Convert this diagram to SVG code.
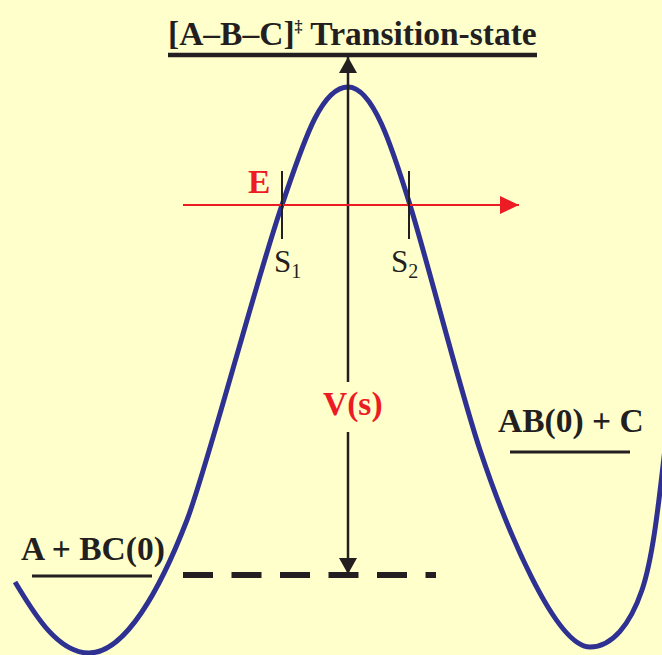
<svg xmlns="http://www.w3.org/2000/svg" width="662" height="655" viewBox="0 0 662 655">
<style>
.t{font-family:"Liberation Serif","Times New Roman",serif;font-weight:bold;font-size:33.5px;fill:#231f20}
.r{fill:#ed1c24}
.n{font-family:"Liberation Serif","Times New Roman",serif;font-size:31px;fill:#231f20}
</style>
<defs>
<marker id="ab" markerWidth="16" markerHeight="18" refX="16" refY="9" orient="auto" markerUnits="userSpaceOnUse">
<path d="M0,0 L16,9 L0,18 Z" fill="#231f20"/>
</marker>
<marker id="ar" markerWidth="19" markerHeight="18" refX="19" refY="9" orient="auto" markerUnits="userSpaceOnUse">
<path d="M0,0 L19,9 L0,18 Z" fill="#ed1c24"/>
</marker>
</defs>
<rect width="662" height="655" fill="#ffffcc"/>
<g id="curve">
<path d="M15,582 C30,606 55,653 89,653 C125,653 160,590 187,520 C207,468 257,277 282,205 C302,147 320,87 348,87 C373,87 392,147 410,205 C428,263 460,390 480,450 C505,525 555,647 590,647 C612,647 630,625 642,590 C654,555 660,490 666,440" fill="none" stroke="#2e3192" stroke-width="5"/>
</g>
<g id="transition-state">
<line x1="168" y1="55" x2="537" y2="55" stroke="#231f20" stroke-width="4.5"/>
<text class="t" x="168" y="45">[A–B–C]<tspan font-size="16" dy="-13">‡</tspan><tspan dy="13"> Transition-state</tspan></text>
</g>
<g id="reactants">
<line x1="32" y1="576" x2="152" y2="576" stroke="#231f20" stroke-width="3"/>
<text class="t" x="21" y="560">A + BC(0)</text>
</g>
<g id="products">
<line x1="510" y1="452" x2="630" y2="452" stroke="#231f20" stroke-width="3"/>
<text class="t" x="498" y="432">AB(0) + C</text>
</g>
<g id="baseline">
<line x1="183" y1="575" x2="436" y2="575" stroke="#231f20" stroke-width="6" stroke-dasharray="30 18.5"/>
</g>
<g id="connectors">
<line x1="348" y1="382" x2="348" y2="57" stroke="#231f20" stroke-width="2.5" marker-end="url(#ab)"/>
<line x1="348" y1="432" x2="348" y2="574" stroke="#231f20" stroke-width="2.5" marker-end="url(#ab)"/>
<line x1="183" y1="205" x2="519" y2="205" stroke="#ed1c24" stroke-width="2.2" marker-end="url(#ar)"/>
</g>
<g id="energy">
<text class="t r" x="248" y="193">E</text>
</g>
<g id="s1">
<line x1="282" y1="171" x2="282" y2="239" stroke="#231f20" stroke-width="2"/>
<text class="n" x="274" y="272">S<tspan font-size="20" dy="6">1</tspan></text>
</g>
<g id="s2">
<line x1="409" y1="171" x2="409" y2="239" stroke="#231f20" stroke-width="2"/>
<text class="n" x="391" y="272">S<tspan font-size="20" dy="6">2</tspan></text>
</g>
<g id="vs">
<text class="t r" x="323" y="415">V(s)</text>
</g>
</svg>
